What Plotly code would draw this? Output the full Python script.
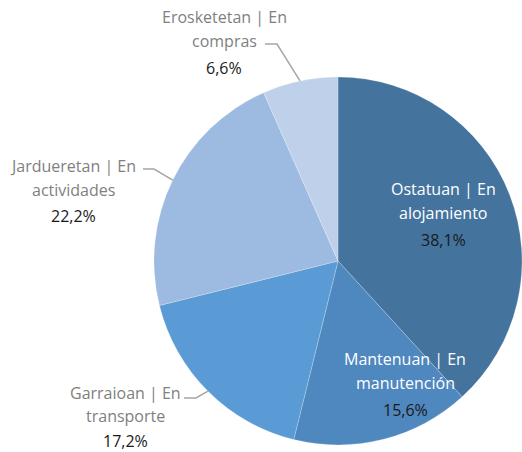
import math
import plotly.graph_objects as go

# ---- data ----
categories = [
    "Ostatuan | En alojamiento",
    "Mantenuan | En manutención",
    "Garraioan | En transporte",
    "Jardueretan | En actividades",
    "Erosketetan | En compras",
]
values = [38.1, 15.6, 17.2, 22.2, 6.6]
colors = ["#44739e", "#4f87bf", "#5b9bd5", "#9dbbe1", "#bfd1ea"]

# ---- layout constants (pixels) ----
W, H = 522, 452
CX, CY, R = 338, 261, 184
FONT = "Open Sans"
FS = 16

# label placement: (center x, first-line y, inside?, line gaps)
label_pos = [
    (443, 189, True, [0, 24, 51]),
    (405, 359, True, [0, 24, 51]),
    (125, 393, False, [0, 23, 48]),
    (73, 166, False, [0, 24, 50]),
    (224, 17, False, [0, 24, 51]),
]
# leader lines: (start x of horizontal, end x of horizontal, y)
leader = [None, None, (184, 196, 398), (143, 154, 169), (265, 277, 44)]


def px(x):
    return x / W


def py(y):
    return 1 - y / H


fig = go.Figure(
    go.Pie(
        labels=categories,
        values=values,
        sort=False,
        direction="clockwise",
        rotation=0,
        marker=dict(colors=colors, line=dict(color="rgba(255,255,255,0.35)", width=0.6)),
        textinfo="none",
        hoverinfo="label+value",
        domain=dict(x=[px(CX - R), px(CX + R)], y=[py(CY + R), py(CY - R)]),
        showlegend=False,
    )
)

total = sum(values)
cum = 0
annotations = []
shapes = []
for i, (name, v) in enumerate(zip(categories, values)):
    mid = (cum + v / 2) / total * 2 * math.pi
    cum += v
    first, rest = name.split(" | En ")
    lines = [first + " | En", rest, f"{v:.1f}".replace(".", ",") + "%"]
    lx, ly, inside, gaps = label_pos[i]
    cat_color = "#ffffff" if inside else "#7f7f7f"
    for j, t in enumerate(lines):
        annotations.append(
            dict(
                x=px(lx), y=py(ly + gaps[j]), xref="paper", yref="paper",
                text=t, showarrow=False, xanchor="center", yanchor="middle",
                font=dict(family=FONT, size=FS, color=cat_color if j < 2 else "#1a1a1a"),
            )
        )
    if leader[i]:
        x0, x1, y0 = leader[i]
        ex = CX + R * math.sin(mid)
        ey = CY - R * math.cos(mid)
        path = f"M {px(x0)} {py(y0)} L {px(x1)} {py(y0)} L {px(ex)} {py(ey)}"
        shapes.append(
            dict(type="path", xref="paper", yref="paper", path=path,
                 line=dict(color="#a6a6a6", width=1.5))
        )

fig.update_layout(
    width=W, height=H,
    margin=dict(l=0, r=0, t=0, b=0),
    paper_bgcolor="white",
    plot_bgcolor="white",
    annotations=annotations,
    shapes=shapes,
    font=dict(family=FONT),
)

fig.write_html(
    "out.html",
    config={"displayModeBar": False},
    post_script="document.body.style.margin='0';document.body.style.overflow='hidden';",
)
